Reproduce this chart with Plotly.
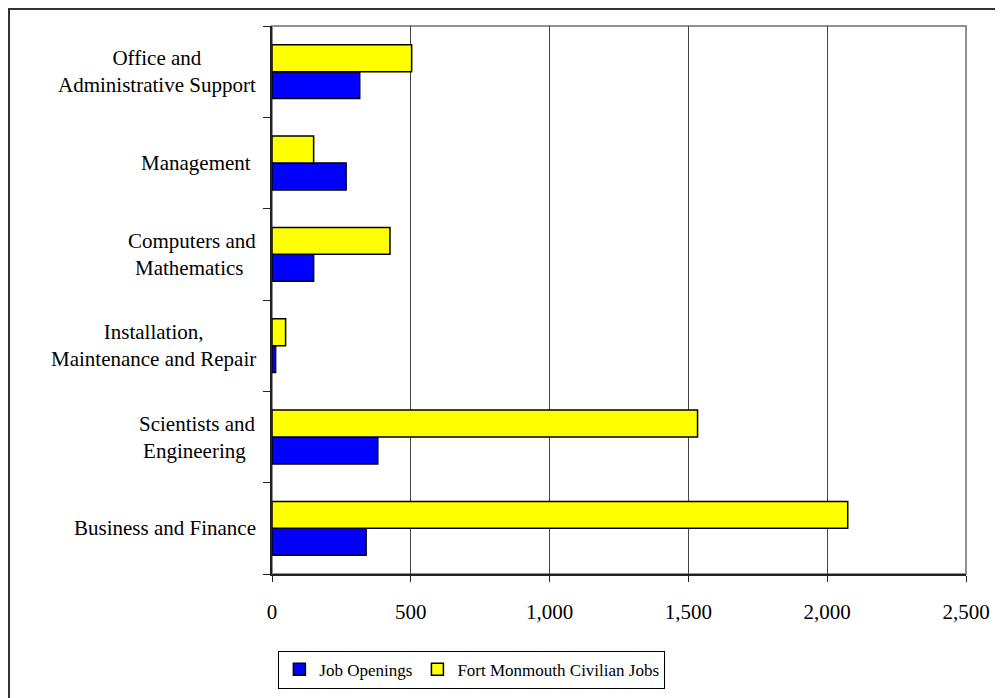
import plotly.graph_objects as go

# categorias de abajo hacia arriba
categorias = ["Business and Finance", "Scientists and Engineering",
              "Installation, Maintenance and Repair", "Computers and Mathematics",
              "Management", "Office and Administrative Support"]
etiquetas = ["Business and Finance", "Scientists and<br>Engineering ",
             "Installation,<br>Maintenance and Repair", "Computers and<br>Mathematics ",
             "Management ", "Office and<br>Administrative Support"]
job_openings = [339, 381, 13, 150, 267, 316]
fort_monmouth = [2074, 1533, 49, 425, 150, 503]
xticks = [0, 500, 1000, 1500, 2000, 2500]
xtick_text = ["0", "500", "1,000", "1,500", "2,000", "2,500"]

fuente = "Liberation Serif"
tam = 21

fig = go.Figure()
fig.add_trace(go.Bar(y=categorias, x=job_openings, orientation="h",
                     name="Job Openings",
                     marker=dict(color="#0000ff", line=dict(color="black", width=1.5))))
fig.add_trace(go.Bar(y=categorias, x=fort_monmouth, orientation="h",
                     name="Fort Monmouth Civilian Jobs",
                     marker=dict(color="#ffff00", line=dict(color="black", width=1.5))))

# etiquetas de categoria centradas (varias lineas)
for cat, txt in zip(categorias, etiquetas):
    fig.add_annotation(x=0, xref="paper", y=cat, yref="y", text=txt,
                       showarrow=False, xanchor="right", xshift=-14,
                       align="center", font=dict(family=fuente, size=tam, color="black"))

# borde exterior del grafico (cortado a la derecha y abajo)
fig.add_shape(type="rect", xref="paper", yref="paper",
              x0=(1 - 264) / 694, x1=1.1, y0=-0.3, y1=(566 - 1) / 548,
              line=dict(color="#333333", width=2))
# borde del area de trazado
fig.add_shape(type="rect", xref="paper", yref="paper", x0=0, x1=1, y0=0, y1=1,
              line=dict(color="#909090", width=2), layer="below")

fig.update_layout(
    width=1003, height=698,
    margin=dict(l=264, r=45, t=18, b=132),
    paper_bgcolor="white", plot_bgcolor="white",
    barmode="group", bargap=0.41, bargroupgap=0,
    font=dict(family=fuente, size=tam, color="black"),
    showlegend=True,
    legend=dict(orientation="h", x=0.288, xanchor="center", y=-0.14, yanchor="top",
                bordercolor="black", borderwidth=1, font=dict(size=17),
                traceorder="normal", itemwidth=30),
)
fig.update_xaxes(range=[0, 2500], tickvals=xticks, ticktext=xtick_text,
                 showgrid=True, gridcolor="#444444", gridwidth=1,
                 showline=True, linecolor="#222222", linewidth=2,
                 ticks="outside", ticklen=6, tickcolor="#222222",
                 ticklabelstandoff=12, zeroline=False)
fig.update_yaxes(categoryorder="array", categoryarray=categorias,
                 showticklabels=False, showgrid=False,
                 showline=True, linecolor="#222222", linewidth=2,
                 ticks="outside", ticklen=7, tickcolor="#222222",
                 tickson="boundaries")

fig.write_html("out.html")
